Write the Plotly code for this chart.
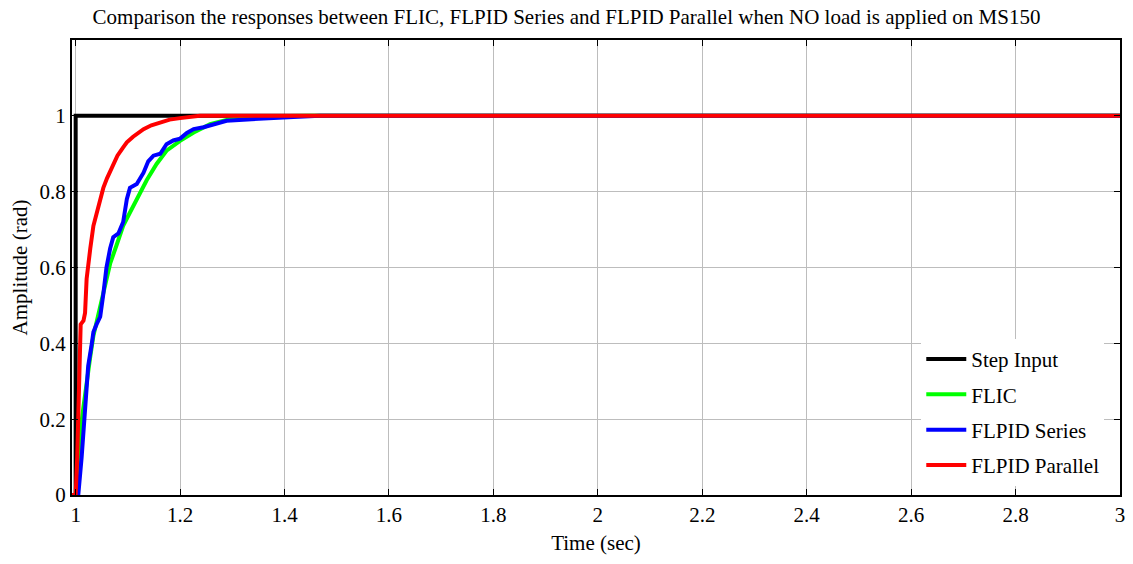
import plotly.graph_objects as go

# ---- data ----
step_t = [0.99, 1.0, 1.0, 3.0]
step_y = [0.0, 0.0, 1.0, 1.0]

flic_t = [0.99, 1.0, 1.005, 1.0083, 1.0147, 1.021, 1.0275, 1.034, 1.0435, 1.053, 1.066,
          1.0786, 1.091, 1.104, 1.117, 1.136, 1.155, 1.174, 1.200, 1.226, 1.2575,
          1.289, 1.328, 1.366, 1.45, 3.0]
flic_y = [0.0, 0.0, 0.057, 0.16, 0.23, 0.30, 0.36, 0.42, 0.48, 0.54, 0.61,
          0.66, 0.71, 0.745, 0.78, 0.83, 0.873, 0.908, 0.934, 0.956, 0.978,
          0.989, 0.996, 0.999, 1.0, 1.0]

series_t = [0.99, 1.0, 1.005, 1.0115, 1.018, 1.024, 1.031, 1.034, 1.040, 1.047, 1.053,
            1.059, 1.066, 1.072, 1.082, 1.091, 1.098, 1.104, 1.117, 1.130, 1.139,
            1.149, 1.162, 1.174, 1.187, 1.200, 1.213, 1.226, 1.245, 1.264, 1.289,
            1.321, 1.353, 1.417, 1.468, 3.0]
series_y = [0.0, 0.0, 0.0, 0.10, 0.23, 0.34, 0.40, 0.43, 0.45, 0.47, 0.53,
            0.60, 0.65, 0.68, 0.69, 0.72, 0.78, 0.81, 0.82, 0.85, 0.88,
            0.895, 0.90, 0.925, 0.935, 0.94, 0.955, 0.965, 0.97, 0.978, 0.987,
            0.99, 0.993, 0.997, 1.0, 1.0]

parallel_t = [0.99, 1.0, 1.003, 1.006, 1.008, 1.0096, 1.015, 1.018, 1.021, 1.024, 1.028,
              1.034, 1.040, 1.047, 1.053, 1.060, 1.066, 1.072, 1.080, 1.090, 1.098,
              1.110, 1.120, 1.130, 1.145, 1.162, 1.180, 1.200, 1.238, 3.0]
parallel_y = [0.0, 0.0, 0.10, 0.28, 0.40, 0.45, 0.46, 0.48, 0.57, 0.61, 0.65,
              0.71, 0.74, 0.78, 0.81, 0.835, 0.855, 0.875, 0.895, 0.915, 0.93,
              0.945, 0.956, 0.965, 0.975, 0.983, 0.99, 0.994, 1.0, 1.0]

x_ticks = [1.0, 1.2, 1.4, 1.6, 1.8, 2.0, 2.2, 2.4, 2.6, 2.8, 3.0]
x_tick_text = ["1", "1.2", "1.4", "1.6", "1.8", "2", "2.2", "2.4", "2.6", "2.8", "3"]
y_ticks = [0.0, 0.2, 0.4, 0.6, 0.8, 1.0, 1.2]
y_tick_text = ["0", "0.2", "0.4", "0.6", "0.8", "1", ""]

FONT = "Liberation Serif, Times New Roman, serif"

fig = go.Figure()
fig.add_trace(go.Scatter(x=step_t, y=step_y, mode="lines", name="Step Input", legendgroup="a",
                         line=dict(color="#000000", width=4)))
fig.add_trace(go.Scatter(x=flic_t, y=flic_y, mode="lines", name="FLIC", legendgroup="b",
                         line=dict(color="#00ff00", width=4)))
fig.add_trace(go.Scatter(x=series_t, y=series_y, mode="lines", name="FLPID Series", legendgroup="c",
                         line=dict(color="#0000ff", width=4)))
fig.add_trace(go.Scatter(x=parallel_t, y=parallel_y, mode="lines", name="FLPID Parallel", legendgroup="d",
                         line=dict(color="#ff0000", width=4)))

axis_common = dict(
    showline=True, linecolor="black", linewidth=2, mirror="ticks",
    ticks="inside", ticklen=6, tickcolor="black", tickwidth=1,
    showgrid=True, gridcolor="#bdbdbd", gridwidth=1, zeroline=False,
    automargin=False,
    tickfont=dict(family=FONT, size=21, color="black"),
)

fig.update_layout(
    width=1133, height=564,
    paper_bgcolor="white", plot_bgcolor="white",
    margin=dict(l=72, r=13, t=40, b=69),
    title=dict(text="Comparison the responses between FLIC, FLPID Series and FLPID Parallel when NO load is applied on MS150",
               font=dict(family=FONT, size=21, color="black"),
               x=0.5, xanchor="center", y=0.97, yanchor="middle"),
    xaxis=dict(range=[0.993, 3.0], tickvals=x_ticks, ticktext=x_tick_text,
               title=dict(text="Time (sec)", font=dict(family=FONT, size=21, color="black"), standoff=9),
               **axis_common),
    yaxis=dict(range=[0, 1.2], tickvals=y_ticks, ticktext=y_tick_text,
               title=dict(text="Amplitude (rad)", font=dict(family=FONT, size=21, color="black"), standoff=6),
               **axis_common),
    legend=dict(x=0.985, y=0.02, xanchor="right", yanchor="bottom",
                bgcolor="white", borderwidth=0,
                font=dict(family=FONT, size=21, color="black"),
                tracegroupgap=5, itemwidth=40),
    showlegend=True,
)

fig.write_html("out.html", config={"displayModeBar": False},
               post_script="document.body.style.margin='0';")
